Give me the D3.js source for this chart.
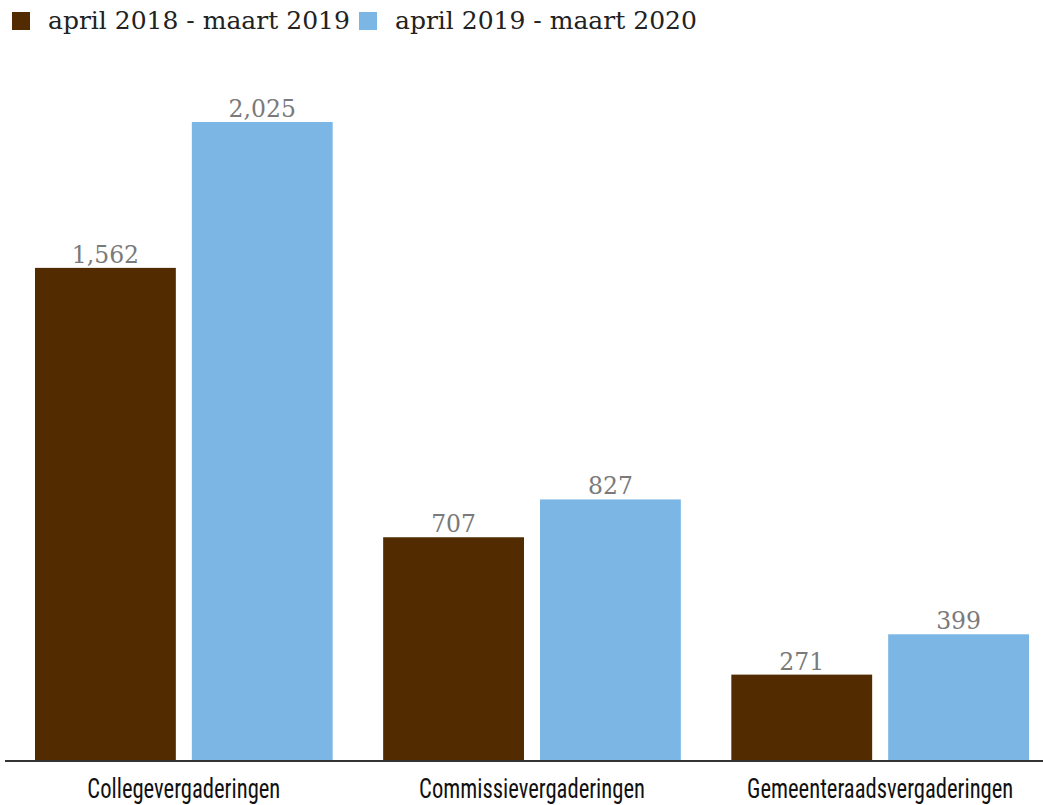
<!DOCTYPE html>
<html>
<head>
<meta charset="utf-8">
<script src="https://cdn.jsdelivr.net/npm/d3@7"></script>
<style>
  body { margin: 0; background: #fff; }
  .value { font-family: "DejaVu Serif", serif; fill: #7a7a7a; }
  .legend text { font-family: "DejaVu Serif", serif; fill: #222; }
  .cat { font-family: "Roboto Condensed", "Liberation Sans Narrow", sans-serif; fill: #111; }
</style>
</head>
<body>
<svg id="svg" width="1043" height="805"></svg>
<script>
const categories = ["Collegevergaderingen", "Commissievergaderingen", "Gemeenteraadsvergaderingen"];
const seriesNames = ["april 2018 - maart 2019", "april 2019 - maart 2020"];
const values2018 = [1562, 707, 271];
const values2019 = [2025, 827, 399];
const colors = ["#522b00", "#7bb6e5"];

const svg = d3.select("#svg");
const baseY = 760;
const topY = 122;

// rijen per categorie
const rows = categories.map((c, i) => ({cat: c, vals: [values2018[i], values2019[i]]}));

const x0 = d3.scaleBand()
  .domain(categories)
  .range([35, 1029])
  .paddingInner(0.145)
  .paddingOuter(0);

const x1 = d3.scaleBand()
  .domain([0, 1])
  .range([0, x0.bandwidth()])
  .paddingInner(0.102);

const y = d3.scaleLinear()
  .domain([0, 2025])
  .range([baseY, topY]);

const fmt = d3.format(",");

const group = svg.selectAll("g.cat-group")
  .data(rows)
  .enter()
  .append("g")
  .attr("class", "cat-group")
  .attr("transform", d => `translate(${x0(d.cat)},0)`);

const cells = group.selectAll("g.bar")
  .data(d => d.vals.map((v, k) => ({k, v})))
  .enter()
  .append("g")
  .attr("class", "bar");

cells.append("rect")
  .attr("x", d => x1(d.k))
  .attr("y", d => y(d.v))
  .attr("width", x1.bandwidth())
  .attr("height", d => baseY - y(d.v))
  .attr("fill", d => colors[d.k]);

cells.append("text")
  .attr("class", "value")
  .attr("x", d => x1(d.k) + x1.bandwidth() / 2)
  .attr("y", d => y(d.v) - 5)
  .attr("text-anchor", "middle")
  .attr("font-size", 23.5)
  .text(d => fmt(d.v));

// categorie labels (smal lettertype, horizontaal samengedrukt)
const catLabels = svg.selectAll("text.cat")
  .data(categories)
  .enter()
  .append("text")
  .attr("class", "cat")
  .attr("text-anchor", "middle")
  .attr("font-size", 28)
  .attr("transform", d => `translate(${x0(d) + x0.bandwidth() / 2},798)`)
  .text(d => d);

const refW = catLabels.node().getComputedTextLength();
const sx = 193 / refW;
catLabels.attr("transform", d => `translate(${x0(d) + x0.bandwidth() / 2},798) scale(${sx},1)`);

svg.append("line")
  .attr("x1", 5).attr("x2", 1043)
  .attr("y1", baseY + 1).attr("y2", baseY + 1)
  .attr("stroke", "#333")
  .attr("stroke-width", 2);

// legenda
const legendX = [12, 359];
const legend = svg.append("g").attr("class", "legend");
const item = legend.selectAll("g")
  .data(seriesNames)
  .enter()
  .append("g")
  .attr("transform", (d, i) => `translate(${legendX[i]},0)`);

item.append("rect")
  .attr("x", 0).attr("y", 12)
  .attr("width", 18).attr("height", 18)
  .attr("fill", (d, i) => colors[i]);

item.append("text")
  .attr("x", 36)
  .attr("y", 29)
  .attr("font-size", 25)
  .text(d => d);
</script>
</body>
</html>
